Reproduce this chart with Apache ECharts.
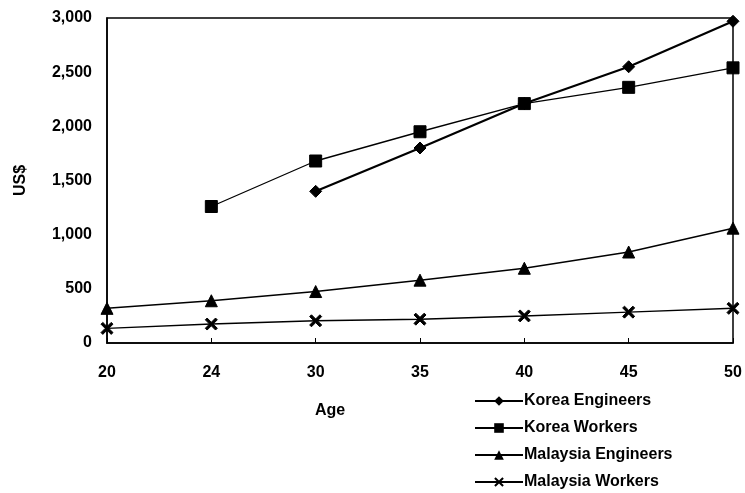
<!DOCTYPE html>
<html><head><meta charset="utf-8">
<script src="https://cdn.jsdelivr.net/npm/echarts@6/dist/echarts.min.js"></script>
<style>html,body{margin:0;padding:0;background:#fff}#c{width:745px;height:493px}</style>
</head><body><div id="c"></div>
<script>
const ages = ['20','24','30','35','40','45','50'];
const koreaEngineers = [null, null, 1400, 1800, 2210, 2550, 2970];
const koreaWorkers = [null, 1260, 1680, 1950, 2210, 2360, 2540];
const malaysiaEngineers = [320, 390, 475, 580, 690, 840, 1060];
const malaysiaWorkers = [135, 175, 205, 220, 250, 285, 320];
const yTicks = [0, 500, 1000, 1500, 2000, 2500, 3000];

const font = 'Liberation Sans, Arial, sans-serif';
const fw = 'bold';
const xPath = 'path://M0,1.5 L1.5,0 L5,3.5 L8.5,0 L10,1.5 L6.5,5 L10,8.5 L8.5,10 L5,6.5 L1.5,10 L0,8.5 L3.5,5 Z';
function mk(name, data, symbol, size, width) {
  return {
    name, type: 'line', data, symbol, symbolSize: size, showSymbol: true,
    lineStyle: { color: '#000', width }, itemStyle: { color: '#000', borderColor: '#000' },
    connectNulls: false, animation: false, clip: false
  };
}
const chart = echarts.init(document.getElementById('c'));
chart.setOption({
  backgroundColor: '#fff',
  animation: false,
  grid: { left: 107, top: 18, right: 12, bottom: 150, show: true, borderColor: '#000', borderWidth: 1.5, containLabel: false },
  xAxis: {
    type: 'category', data: ages, boundaryGap: false,
    name: 'Age', nameLocation: 'middle', nameGap: 60,
    nameTextStyle: { fontFamily: font, fontSize: 16, fontWeight: fw, color: '#000', padding: [0, 180, 0, 0] },
    axisLine: { lineStyle: { color: '#000', width: 1.5 } },
    axisTick: { inside: true, length: 5, lineStyle: { color: '#000' } },
    axisLabel: { fontFamily: font, fontSize: 16, fontWeight: fw, color: '#000', margin: 22 },
    splitLine: { show: false }
  },
  yAxis: {
    type: 'value', min: 0, max: 3000, interval: 500,
    name: 'US$', nameLocation: 'middle', nameGap: 78, nameRotate: 90,
    nameTextStyle: { fontFamily: font, fontSize: 16, fontWeight: fw, color: '#000' },
    axisLine: { show: true, lineStyle: { color: '#000', width: 1.5 } },
    axisTick: { show: false },
    axisLabel: { fontFamily: font, fontSize: 16, fontWeight: fw, color: '#000', margin: 15,
      formatter: v => yTicks.includes(v) ? v.toLocaleString('en-US') : '' },
    splitLine: { show: false }
  },
  legend: {
    orient: 'vertical', left: 474, top: 393, height: 100, padding: 0, itemGap: 11, itemWidth: 48, itemHeight: 12,
    textStyle: { fontFamily: font, fontSize: 16, fontWeight: fw, color: '#000', padding: [0,0,0,-4] },
    data: ['Korea Engineers', 'Korea Workers', 'Malaysia Engineers', 'Malaysia Workers']
  },
  series: [
    mk('Korea Engineers', koreaEngineers, 'diamond', 12, 2.2),
    mk('Korea Workers', koreaWorkers, 'rect', 12, 1.3),
    mk('Malaysia Engineers', malaysiaEngineers, 'triangle', 12, 1.5),
    mk('Malaysia Workers', malaysiaWorkers, xPath, 12, 1.5)
  ]
});
</script></body></html>
